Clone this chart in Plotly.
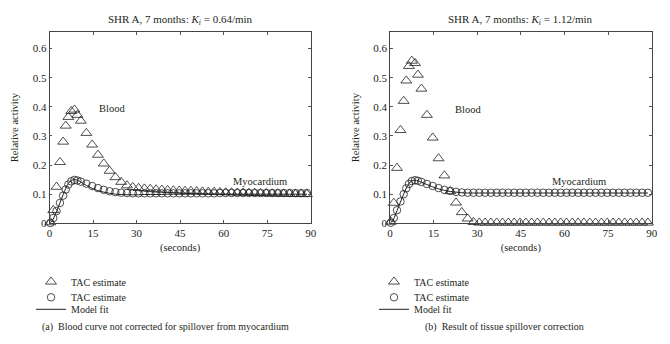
import plotly.graph_objects as go

# ---------------- data ----------------
time_s = [0.3, 1.3, 2.4, 3.6, 4.7, 5.6, 6.5, 7.5, 8.6, 9.6, 10.8,
          12.7, 14.7, 16.7, 18.7, 20.7, 22.7, 24.7, 26.7, 28.7, 30.7,
          32.7, 34.7, 36.7, 38.7, 40.7, 42.7, 44.7, 46.7, 48.7, 50.7,
          52.7, 54.7, 56.7, 58.7, 60.7, 62.7, 64.7, 66.7, 68.7, 70.7,
          72.7, 74.7, 76.7, 78.7, 80.7, 82.7, 84.7, 86.7, 88.7]

# (a) not corrected
a_blood = [0.003, 0.045, 0.125, 0.21, 0.28, 0.335, 0.365, 0.385, 0.39, 0.372, 0.352,
           0.31, 0.27, 0.235, 0.205, 0.18, 0.158, 0.142, 0.13, 0.124, 0.121,
           0.119, 0.118, 0.116, 0.115, 0.114, 0.113, 0.112, 0.111, 0.111, 0.110,
           0.109, 0.108, 0.108, 0.107, 0.106, 0.106, 0.105, 0.105, 0.104, 0.104,
           0.103, 0.103, 0.102, 0.102, 0.101, 0.101, 0.100, 0.100, 0.100]
a_myo = [0.001, 0.018, 0.042, 0.070, 0.095, 0.116, 0.133, 0.144, 0.149, 0.147, 0.143,
         0.136, 0.128, 0.121, 0.115, 0.110, 0.107, 0.105, 0.104, 0.103, 0.103,
         0.103, 0.103, 0.103, 0.103, 0.103, 0.103, 0.103, 0.103, 0.103, 0.103,
         0.103, 0.103, 0.103, 0.104, 0.104, 0.104, 0.104, 0.104, 0.104, 0.104,
         0.104, 0.104, 0.104, 0.104, 0.104, 0.104, 0.104, 0.104, 0.104]
a_fit = [0.002, 0.015, 0.040, 0.070, 0.098, 0.120, 0.137, 0.147, 0.150, 0.148, 0.142,
         0.130, 0.120, 0.112, 0.107, 0.103, 0.100, 0.099, 0.098, 0.098, 0.098,
         0.099, 0.099, 0.099, 0.099, 0.100, 0.100, 0.100, 0.100, 0.100, 0.100,
         0.100, 0.100, 0.100, 0.100, 0.100, 0.100, 0.100, 0.100, 0.100, 0.100,
         0.100, 0.100, 0.100, 0.100, 0.100, 0.100, 0.100, 0.100, 0.100]

# (b) spillover corrected
b_blood = [0.005, 0.070, 0.190, 0.320, 0.420, 0.490, 0.540, 0.558, 0.550, 0.510, 0.462,
           0.372, 0.294, 0.223, 0.164, 0.110, 0.071, 0.038, 0.016, 0.004, 0.002,
           0.002, 0.002, 0.002, 0.002, 0.002, 0.002, 0.002, 0.002, 0.002, 0.002,
           0.002, 0.002, 0.002, 0.002, 0.002, 0.002, 0.002, 0.002, 0.002, 0.002,
           0.002, 0.002, 0.002, 0.002, 0.002, 0.002, 0.002, 0.002, 0.002]
b_myo = [0.002, 0.018, 0.045, 0.075, 0.100, 0.120, 0.135, 0.145, 0.148, 0.146, 0.142,
         0.135, 0.128, 0.121, 0.115, 0.111, 0.108, 0.106, 0.105, 0.105, 0.105,
         0.105, 0.105, 0.105, 0.105, 0.105, 0.105, 0.105, 0.105, 0.105, 0.105,
         0.105, 0.105, 0.105, 0.105, 0.105, 0.105, 0.105, 0.105, 0.105, 0.105,
         0.105, 0.105, 0.105, 0.105, 0.105, 0.105, 0.105, 0.105, 0.105]
b_fit = [0.002, 0.016, 0.043, 0.073, 0.100, 0.121, 0.136, 0.146, 0.148, 0.146, 0.141,
         0.133, 0.125, 0.118, 0.113, 0.109, 0.107, 0.105, 0.104, 0.104, 0.104,
         0.104, 0.104, 0.104, 0.104, 0.104, 0.104, 0.104, 0.104, 0.104, 0.104,
         0.104, 0.104, 0.104, 0.104, 0.104, 0.104, 0.104, 0.104, 0.104, 0.104,
         0.104, 0.104, 0.104, 0.104, 0.104, 0.104, 0.104, 0.104, 0.104]

x_ticks = [0, 15, 30, 45, 60, 75, 90]
y_ticks = [0, 0.1, 0.2, 0.3, 0.4, 0.5, 0.6]
titles = ["SHR A, 7 months: <i>K</i><sub><i>i</i></sub> = 0.64/min",
          "SHR A, 7 months: <i>K</i><sub><i>i</i></sub> = 1.12/min"]
captions = ["(a)  Blood curve not corrected for spillover from myocardium",
            "(b)  Result of tissue spillover correction"]
legend_names = ["TAC estimate", "TAC estimate", "Model fit"]

# ---------------- figure ----------------
W, H = 670, 344
FONT = "Liberation Serif, Times New Roman, serif"
INK = "#231f20"

fig = go.Figure()

panels = [
    dict(blood=a_blood, myo=a_myo, fit=a_fit, xa="x", ya="y",
         dom=[49.5 / W, 310.7 / W], leg_left=31,
         blood_lbl=(16.5, 0.393), myo_lbl=(62.5, 0.145)),
    dict(blood=b_blood, myo=b_myo, fit=b_fit, xa="x2", ya="y2",
         dom=[390.0 / W, 651.7 / W], leg_left=374,
         blood_lbl=(21.5, 0.392), myo_lbl=(55.0, 0.145)),
]

row_px = [281.7, 297.3, 309.3]
legend_id = 0
layout_legends = {}
annotations = []

for p_i, p in enumerate(panels):
    series = [
        dict(y=p["blood"], mode="markers",
             marker=dict(symbol="triangle-up-open", size=9.5, color=INK,
                         line=dict(width=0.8, color=INK))),
        dict(y=p["myo"], mode="markers",
             marker=dict(symbol="circle-open", size=7.5, color=INK,
                         line=dict(width=0.8, color=INK))),
        dict(y=p["fit"], mode="lines",
             line=dict(color=INK, width=1.0, shape="spline")),
    ]
    for s_i, s in enumerate(series):
        legend_id += 1
        lname = "legend" if legend_id == 1 else f"legend{legend_id}"
        kw = dict(marker=s["marker"]) if "marker" in s else dict(line=s["line"])
        fig.add_trace(go.Scatter(
            x=time_s, y=s["y"], mode=s["mode"], name=legend_names[s_i],
            xaxis=p["xa"], yaxis=p["ya"], cliponaxis=False,
            legend=lname, showlegend=True, **kw))
        layout_legends[lname] = dict(
            x=p["leg_left"] / W, xanchor="left",
            y=1 - row_px[s_i] / H, yanchor="middle",
            bgcolor="rgba(0,0,0,0)", borderwidth=0,
            font=dict(family=FONT, size=10, color=INK),
            itemwidth=30, tracegroupgap=0)

    cx = (p["dom"][0] + p["dom"][1]) / 2
    annotations.append(dict(text=titles[p_i], x=cx, y=1 - 20 / H,
                            xref="paper", yref="paper", showarrow=False,
                            xanchor="center", yanchor="middle",
                            font=dict(family=FONT, size=11, color=INK)))
    annotations.append(dict(text="Blood", x=p["blood_lbl"][0], y=p["blood_lbl"][1],
                            xref=p["xa"], yref=p["ya"], showarrow=False,
                            xanchor="left", yanchor="middle",
                            font=dict(family=FONT, size=10.5, color=INK)))
    annotations.append(dict(text="Myocardium", x=p["myo_lbl"][0], y=p["myo_lbl"][1],
                            xref=p["xa"], yref=p["ya"], showarrow=False,
                            xanchor="left", yanchor="middle",
                            font=dict(family=FONT, size=10.5, color=INK)))

annotations.append(dict(text=captions[0], x=165.5 / W, y=1 - 327 / H,
                        xref="paper", yref="paper", showarrow=False,
                        xanchor="center", yanchor="middle",
                        font=dict(family=FONT, size=10, color=INK)))
annotations.append(dict(text=captions[1], x=504 / W, y=1 - 327 / H,
                        xref="paper", yref="paper", showarrow=False,
                        xanchor="center", yanchor="middle",
                        font=dict(family=FONT, size=10, color=INK)))

ydom = [1 - 223.3 / H, 1 - 32 / H]


def xaxis(dom, anchor):
    return dict(domain=dom, anchor=anchor, range=[0, 90], tickvals=x_ticks,
                ticks="inside", ticklen=3, tickcolor="#555", tickwidth=0.8,
                showline=True, linecolor="#444", linewidth=0.8, mirror="ticks",
                showgrid=False, zeroline=False, automargin=False,
                tickfont=dict(family=FONT, size=11, color=INK),
                title=dict(text="(seconds)", standoff=5,
                           font=dict(family=FONT, size=10.5, color=INK)))


def yaxis(anchor):
    return dict(domain=ydom, anchor=anchor, range=[0, 0.657], tickvals=y_ticks,
                ticktext=["0", "0.1", "0.2", "0.3", "0.4", "0.5", "0.6"],
                ticks="inside", ticklen=3, tickcolor="#555", tickwidth=0.8,
                showline=True, linecolor="#444", linewidth=0.8, mirror="ticks",
                showgrid=False, zeroline=False, automargin=False,
                tickfont=dict(family=FONT, size=11, color=INK),
                title=dict(text="Relative activity", standoff=11,
                           font=dict(family=FONT, size=10.5, color=INK)))


fig.update_layout(
    width=W, height=H,
    margin=dict(l=0, r=0, t=0, b=0, autoexpand=False),
    paper_bgcolor="white", plot_bgcolor="white",
    xaxis=xaxis(panels[0]["dom"], "y"),
    yaxis=yaxis("x"),
    xaxis2=xaxis(panels[1]["dom"], "y2"),
    yaxis2=yaxis("x2"),
    annotations=annotations,
    font=dict(family=FONT, color=INK),
    **layout_legends,
)

fig.write_html(
    "out.html",
    config={"displayModeBar": False},
    post_script="document.body.style.margin='0';document.body.style.padding='0';",
)
